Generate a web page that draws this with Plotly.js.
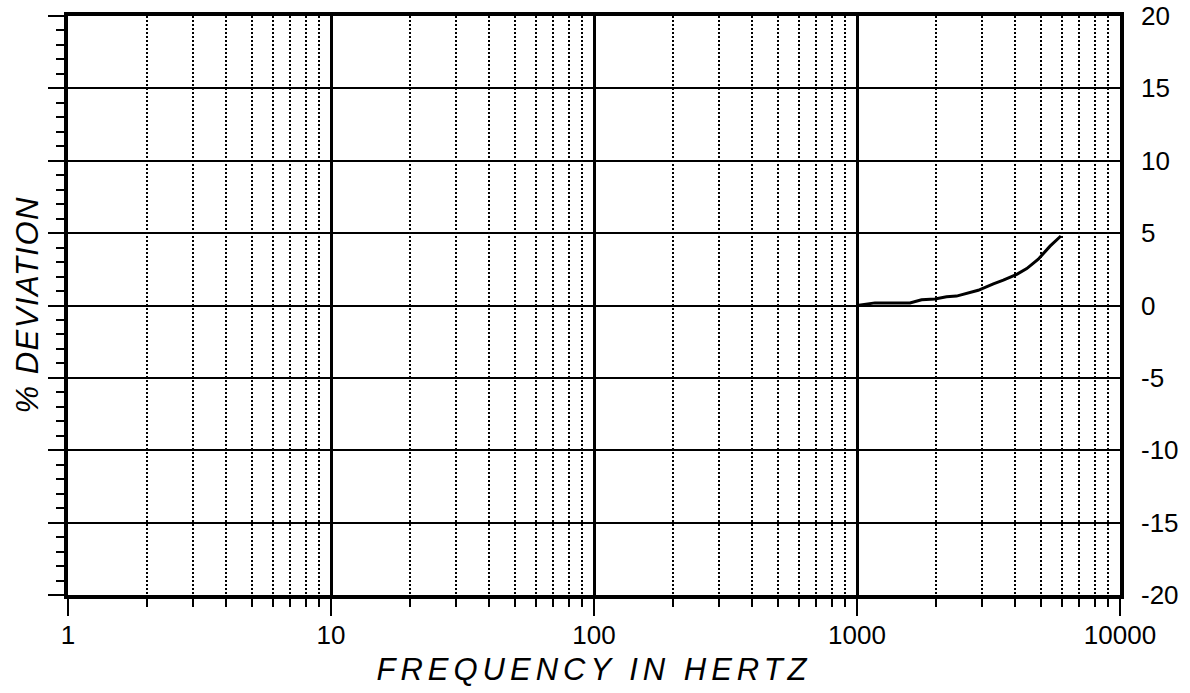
<!DOCTYPE html>
<html>
<head>
<meta charset="utf-8">
<script src="https://cdn.plot.ly/plotly-3.0.1.min.js"></script>
<style>
html,body{margin:0;padding:0;background:#fff;}
#chart{width:1190px;height:693px;}
.g-xtitle text{letter-spacing:5px;}
.annotation-text{letter-spacing:1.5px;}
</style>
</head>
<body>
<div id="chart"></div>
<script>
// Frequency response data (Hz, % deviation)
const freqHz = [1000, 1170, 1590, 1760, 1980, 2190, 2390, 2890, 3300, 3600, 4050, 4420, 4890, 5420, 5960];
const deviationPct = [0.0, 0.18, 0.18, 0.4, 0.45, 0.6, 0.65, 1.05, 1.5, 1.75, 2.15, 2.55, 3.2, 4.1, 4.8];

const xMajorVals = [1, 10, 100, 1000, 10000];
const xMajorText = ['1', '10', '100', '1000', '10000'];
const xMinorVals = [];
[1, 10, 100, 1000].forEach(d => { for (let k = 2; k <= 9; k++) xMinorVals.push(d * k); });

const yTickVals = [-20, -15, -10, -5, 0, 5, 10, 15, 20];
const yTickText = ['-20', '-15', '-10', '-5', '0', '5', '10', '15', '20'];

const FONT = 'Liberation Sans, Arial, sans-serif';

const traces = [
  {
    x: freqHz, y: deviationPct, type: 'scatter', mode: 'lines',
    line: {color: '#000', width: 3}, hoverinfo: 'skip', showlegend: false
  },
  {
    x: [1, 10000], y: [-20, 20], type: 'scatter', mode: 'markers', yaxis: 'y2',
    marker: {opacity: 0}, hoverinfo: 'skip', showlegend: false
  }
];

const layout = {
  width: 1190, height: 693,
  margin: {l: 68, r: 70, t: 16, b: 98},
  paper_bgcolor: '#fff', plot_bgcolor: '#fff',
  font: {family: FONT, color: '#000', size: 26},
  showlegend: false,
  xaxis: {
    type: 'log', range: [0, 4],
    tickmode: 'array', tickvals: xMajorVals, ticktext: xMajorText,
    ticks: 'outside', ticklen: 17, tickwidth: 2, tickcolor: '#000',
    showgrid: true, gridcolor: '#000', gridwidth: 3,
    showline: true, linecolor: '#000', linewidth: 4, mirror: true,
    zeroline: false,
    tickfont: {family: FONT, size: 26, color: '#000'},
    ticklabelstandoff: -3,
    minor: {
      tickmode: 'array', tickvals: xMinorVals,
      ticks: 'outside', ticklen: 8, tickwidth: 2, tickcolor: '#000',
      showgrid: true, gridcolor: '#000', gridwidth: 2, griddash: '2px,2px'
    },
    title: {text: 'FREQUENCY IN HERTZ', font: {family: FONT, size: 31, color: '#000', style: 'italic'}, standoff: 10}
  },
  yaxis: {
    range: [-20, 20], side: 'left',
    tickmode: 'array', tickvals: yTickVals,
    showticklabels: false,
    ticks: 'outside', ticklen: 16, tickwidth: 2, tickcolor: '#000',
    showgrid: true, gridcolor: '#000', gridwidth: 2,
    showline: true, linecolor: '#000', linewidth: 4, mirror: true,
    zeroline: false,
    minor: {dtick: 1, tick0: 0, ticks: 'outside', ticklen: 8, tickwidth: 2, tickcolor: '#000', showgrid: false}
  },
  yaxis2: {
    overlaying: 'y', side: 'right', range: [-20, 20],
    tickmode: 'array', tickvals: yTickVals, ticktext: yTickText,
    ticks: '', showgrid: false, zeroline: false, showline: false,
    tickfont: {family: FONT, size: 26, color: '#000'},
    ticklabelstandoff: 20
  },
  annotations: [{
    text: '% DEVIATION', xref: 'paper', yref: 'paper', x: 0, y: 0.5,
    xanchor: 'center', yanchor: 'middle', xshift: -41, textangle: -90,
    showarrow: false, font: {family: FONT, size: 31, color: '#000', style: 'italic'}
  }]
};

Plotly.newPlot('chart', traces, layout, {displayModeBar: false, staticPlot: true});
</script>
</body>
</html>
